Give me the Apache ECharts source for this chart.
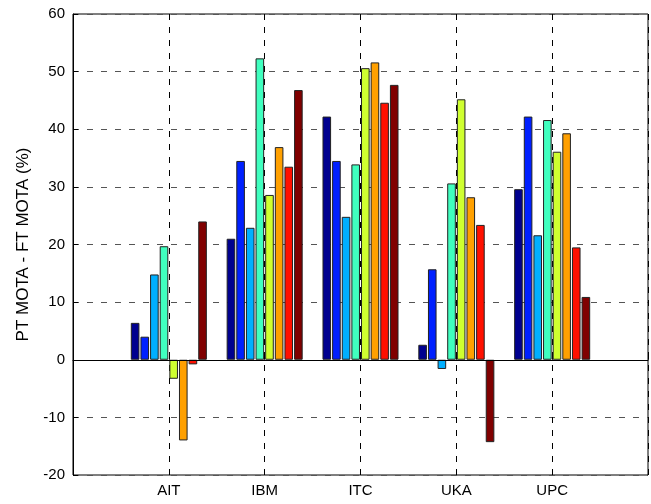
<!DOCTYPE html>
<html>
<head>
<meta charset="utf-8">
<script src="https://cdn.jsdelivr.net/npm/echarts@6/dist/echarts.min.js"></script>
<style>
  html, body { margin: 0; padding: 0; background: #fff; }
  #chart { width: 651px; height: 504px; }
</style>
</head>
<body>
<div id="chart"></div>
<script>
// sites on the x axis
const categories = ['AIT', 'IBM', 'ITC', 'UKA', 'UPC'];
// one array per bar in each group (left to right)
const s1 = [6.4, 21.0, 42.2, 2.6, 29.6];
const s2 = [4.0, 34.5, 34.5, 15.7, 42.2];
const s3 = [14.8, 22.9, 24.8, -1.6, 21.6];
const s4 = [19.7, 52.3, 33.9, 30.6, 41.6];
const s5 = [-3.3, 28.6, 50.6, 45.2, 36.1];
const s6 = [-14.0, 36.9, 51.6, 28.2, 39.3];
const s7 = [-0.8, 33.5, 44.6, 23.4, 19.5];
const s8 = [24.0, 46.8, 47.7, -14.3, 10.9];
const yTicks = [-20, -10, 0, 10, 20, 30, 40, 50, 60];

const seriesData = [s1, s2, s3, s4, s5, s6, s7, s8];
const colors = ['#00008f', '#0020ff', '#00afff', '#40ffbf', '#cfff30', '#ffa000', '#ff1000', '#800000'];
const font = 'Arial, "Liberation Sans", sans-serif';

// empty slots at both ends so the axis runs from 0 to 6
const xData = [''].concat(categories, ['']);

const series = seriesData.map(function (vals, i) {
    const s = {
        type: 'bar',
        data: [null].concat(vals, [null]),
        barWidth: 8.6,
        barGap: '12%',
        itemStyle: { color: colors[i], borderColor: '#222', borderWidth: 1 },
        animation: false
    };
    if (i === 0) {
        s.markLine = {
            silent: true,
            symbol: 'none',
            label: { show: false },
            lineStyle: { color: '#000', type: 'solid', width: 1 },
            data: [{ yAxis: 0 }]
        };
    }
    return s;
});

const chart = echarts.init(document.getElementById('chart'));
chart.setOption({
    animation: false,
    grid: {
        left: 73, top: 14, width: 586, height: 461,
        show: true, borderColor: '#000', borderWidth: 1, backgroundColor: 'transparent'
    },
    xAxis: {
        type: 'category',
        data: xData,
        boundaryGap: false,
        axisLine: { lineStyle: { color: '#000' } },
        axisTick: { show: true, inside: true, length: 5, interval: 0, lineStyle: { color: '#000' } },
        axisLabel: { color: '#000', fontSize: 15, fontFamily: font, margin: 8, interval: 0 },
        splitLine: { show: true, interval: 0, lineStyle: { color: '#000', type: [6, 7], width: 1 } }
    },
    yAxis: {
        type: 'value',
        min: yTicks[0],
        max: yTicks[yTicks.length - 1],
        interval: 10,
        name: 'PT MOTA - FT MOTA (%)',
        nameLocation: 'middle',
        nameGap: 41,
        nameTextStyle: { color: '#000', fontSize: 17, fontFamily: font },
        axisLine: { show: true, lineStyle: { color: '#000' } },
        axisTick: { show: true, inside: true, length: 5, lineStyle: { color: '#000' } },
        axisLabel: { color: '#000', fontSize: 15, fontFamily: font, margin: 8 },
        splitLine: { show: true, lineStyle: { color: '#555', type: [6, 8], width: 1 } }
    },
    series: series
});
</script>
</body>
</html>
